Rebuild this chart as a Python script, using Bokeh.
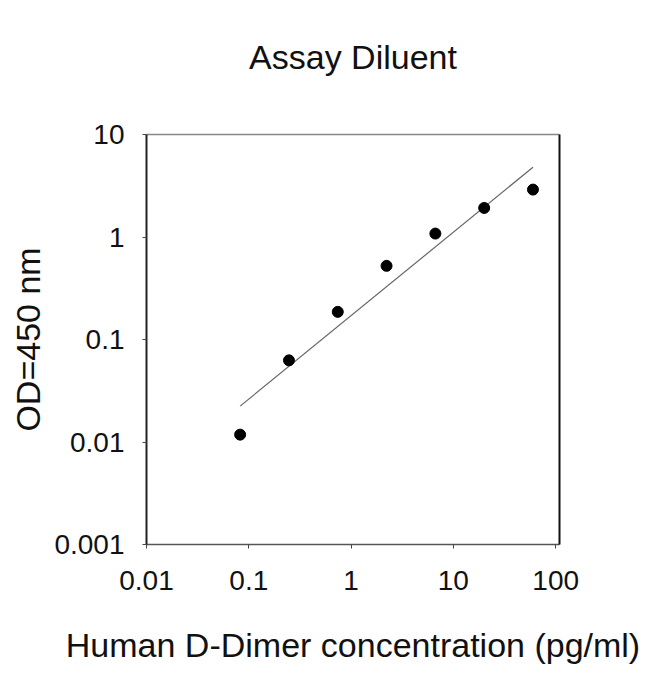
from bokeh.plotting import figure
from bokeh.models import FixedTicker, LinearAxis, Range1d
from bokeh.embed import file_html
from bokeh.resources import INLINE

# Data
conc = [0.0823, 0.247, 0.741, 2.222, 6.667, 20.0, 60.0]
od = [0.0118, 0.0626, 0.186, 0.523, 1.08, 1.92, 2.90]
fit_x = [0.0823, 60.0]
fit_y = [0.0224, 4.79]

x_ticks = [0.01, 0.1, 1, 10, 100]
x_tick_labels = ["0.01", "0.1", "1", "10", "100"]
y_ticks = [0.001, 0.01, 0.1, 1, 10]
y_tick_labels = ["0.001", "0.01", "0.1", "1", "10"]

title_text = "Assay Diluent"
x_label = "Human D-Dimer concentration (pg/ml)"
y_label = "OD=450 nm"

FONT = "Liberation Sans"

p = figure(width=642, height=666, x_axis_type="log", y_axis_type="log",
           x_range=Range1d(0.01, 109), y_range=Range1d(0.001, 10),
           output_backend="svg", toolbar_location=None,
           min_border_left=146, min_border_right=83,
           min_border_top=134, min_border_bottom=122)

p.title.text = title_text
p.title.align = "center"
p.title.text_font = FONT
p.title.text_font_size = "34px"
p.title.text_font_style = "normal"
p.title.text_color = "#111111"
p.title.standoff = 71

p.outline_line_color = None
p.xgrid.visible = False
p.ygrid.visible = False
p.background_fill_color = "white"
p.border_fill_color = "white"

for ax, ticks, labels in ((p.xaxis[0], x_ticks, x_tick_labels), (p.yaxis[0], y_ticks, y_tick_labels)):
    ax.ticker = FixedTicker(ticks=ticks, minor_ticks=[])
    ax.major_label_overrides = {t: l for t, l in zip(ticks, labels)}
    ax.major_label_text_font = FONT
    ax.major_label_text_font_size = "28px"
    ax.major_label_text_color = "#111111"
    ax.axis_label_text_font = FONT
    ax.axis_label_text_font_size = "34px"
    ax.axis_label_text_font_style = "normal"
    ax.axis_label_text_color = "#111111"
    ax.major_tick_in = 0
    ax.major_tick_out = 4
    ax.minor_tick_in = 0
    ax.minor_tick_out = 0
    ax.major_tick_line_color = "#444444"

p.xaxis.axis_label = x_label
p.yaxis.axis_label = y_label
p.xaxis.axis_line_color = "#555555"
p.xaxis.axis_line_width = 1.5
p.yaxis.axis_line_color = "#222222"
p.yaxis.axis_line_width = 2
p.xaxis.major_label_standoff = 22
p.yaxis.major_label_standoff = 18
p.xaxis.axis_label_standoff = 33
p.yaxis.axis_label_standoff = 4

# frame lines on top (grey) and right (black); the top one also spaces the title
top_ax = LinearAxis(major_tick_line_color=None, minor_tick_line_color=None,
                    major_label_text_font_size="0px", axis_line_color="#888888",
                    axis_line_width=1.5, axis_label=" ",
                    axis_label_text_font_size="1px", axis_label_standoff=19)
top_ax.ticker = FixedTicker(ticks=[])
right_ax = LinearAxis(major_tick_line_color=None, minor_tick_line_color=None,
                      major_label_text_font_size="0px", axis_line_color="#111111",
                      axis_line_width=2)
right_ax.ticker = FixedTicker(ticks=[])
p.add_layout(top_ax, "above")
p.add_layout(right_ax, "right")

p.line(fit_x, fit_y, line_color="#666666", line_width=1.2)
p.scatter(conc, od, size=11, fill_color="black", line_color="black")

open("out.html", "w").write(file_html(p, INLINE))
